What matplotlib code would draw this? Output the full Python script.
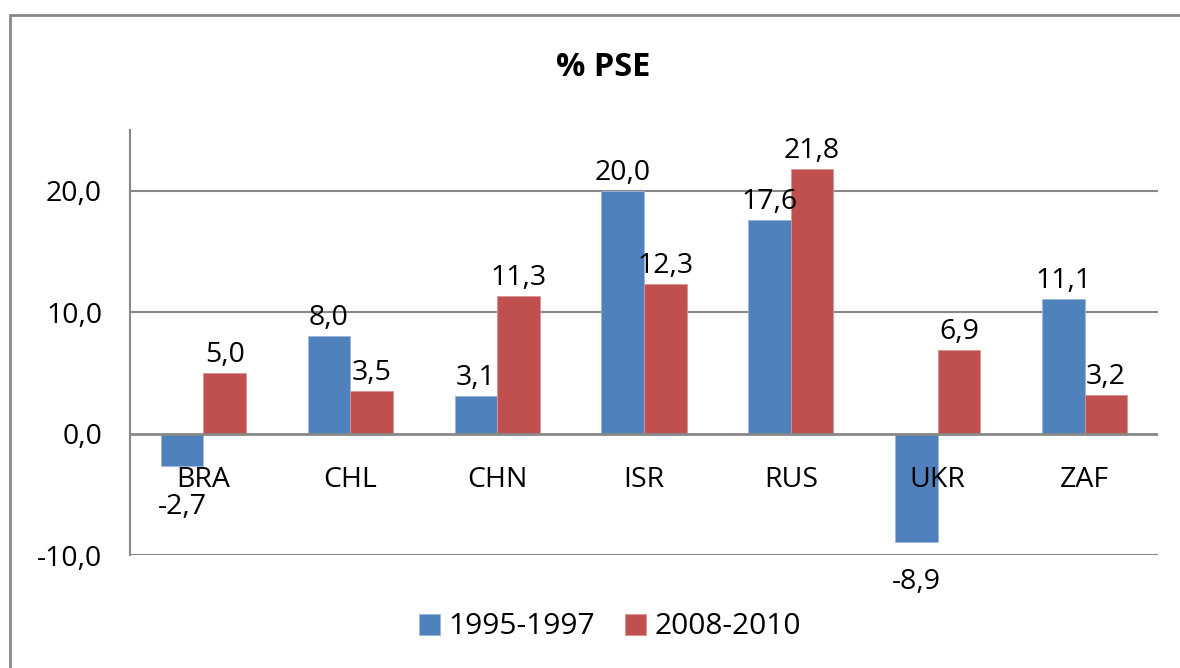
import numpy as np
import matplotlib.pyplot as plt
from matplotlib.patches import Rectangle

countries = ["BRA", "CHL", "CHN", "ISR", "RUS", "UKR", "ZAF"]
pse_1995 = [-2.7, 8.0, 3.1, 20.0, 17.6, -8.9, 11.1]
pse_2008 = [5.0, 3.5, 11.3, 12.3, 21.8, 6.9, 3.2]
series_names = ["1995-1997", "2008-2010"]
colors = ["#4F81BD", "#C0504D"]

plt.rcParams['font.family'] = ['Open Sans', 'DejaVu Sans']
FS = 20.5

fig = plt.figure(figsize=(11.8, 6.68), dpi=100)
ax = fig.add_axes([130 / 1180, 1 - 555 / 668, (1158 - 130) / 1180, (555 - 130) / 668])

x = np.arange(len(countries))
w = 0.29
fmt = lambda v: f"{v:.1f}".replace(".", ",")

for i, (vals, col, name) in enumerate(zip([pse_1995, pse_2008], colors, series_names)):
    pos = x - w / 2 if i == 0 else x + w / 2
    bars = ax.bar(pos, vals, w, color=col, edgecolor="#9DB7DA" if i == 0 else "#D99694",
                  linewidth=0.6, label=name, zorder=3)
    for b, v in zip(bars, vals):
        off = 3 if v >= 0 else -19
        ax.annotate(fmt(v), (b.get_x() + b.get_width() / 2, v), xytext=(0, off),
                    textcoords="offset points", ha="center",
                    va="bottom" if v >= 0 else "top", fontsize=FS, zorder=4)

ax.set_xlim(-0.5, len(countries) - 0.5)
ax.set_ylim(-10, 25)
ax.set_yticks([-10, 0, 10, 20])
ax.set_yticklabels([fmt(t) for t in [-10, 0, 10, 20]], fontsize=FS)
ax.tick_params(axis="y", length=0, pad=20)
ax.set_xticks([])
for t in [-10, 10, 20]:
    ax.axhline(t, color="#888888", lw=1.5, zorder=1)
ax.axhline(0, color="#888888", lw=2, zorder=5)
for s in ["top", "right", "bottom"]:
    ax.spines[s].set_visible(False)
ax.spines["left"].set_color("#888888")
ax.spines["left"].set_linewidth(1.5)

for xi, c in zip(x, countries):
    ax.annotate(c, (xi, 0), xytext=(0, -23), textcoords="offset points",
                ha="center", va="top", fontsize=FS)

fig.text(603 / 1180, 1 - 68 / 668, "% PSE", ha="center", va="center",
         fontsize=23.5, fontweight="bold")

ax.legend(loc="center", frameon=False, fontsize=21.5,
          ncol=2, handlelength=0.7, handleheight=0.7, handletextpad=0.3,
          columnspacing=1.0)
leg = ax.get_legend()
leg.set_bbox_to_anchor((610 / 1180, 1 - 627 / 668), transform=fig.transFigure)

fig.patches.append(Rectangle((10 / 1180, -0.05), 1.1, 1 - 15 / 668 + 0.05,
                             transform=fig.transFigure, fill=False,
                             edgecolor="#888888", lw=2))

fig.savefig("out.png", dpi=100)
